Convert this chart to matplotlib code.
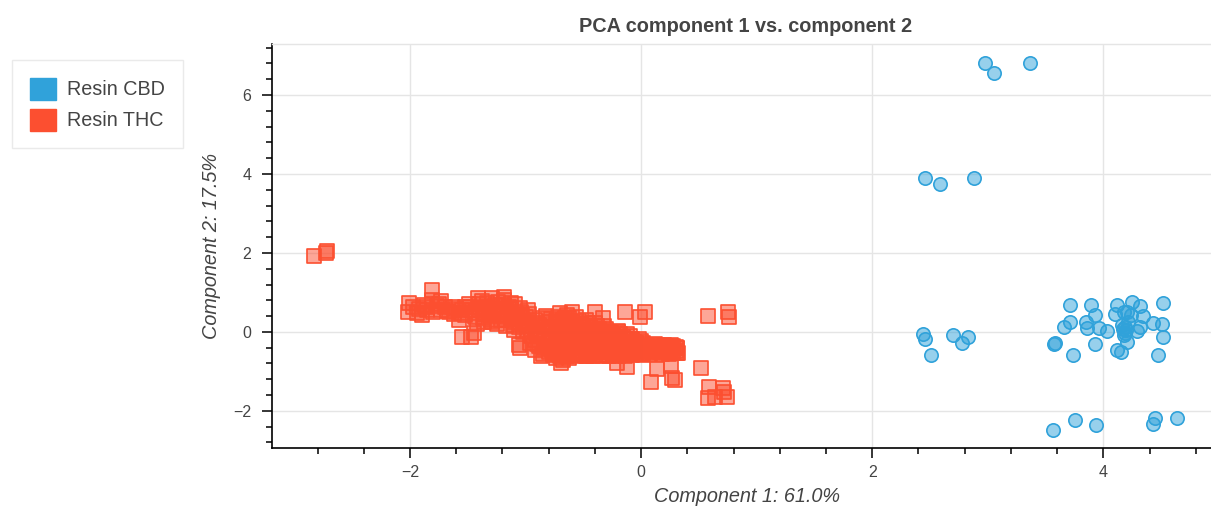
import matplotlib.pyplot as plt
from matplotlib.patches import Patch
from matplotlib.ticker import MultipleLocator
from matplotlib.colors import to_rgba

plt.rcParams['font.family'] = ['Liberation Sans', 'DejaVu Sans']

# Resin CBD (circles)
cbd_x = [2.98, 3.05, 3.37, 2.46, 2.59, 2.88,
         2.44, 2.46, 2.70, 2.78, 2.83, 2.51,
         3.570, 3.578, 3.738, 3.712, 3.708, 3.662, 3.894, 3.925, 3.850, 3.859,
         3.965, 4.029, 3.931, 4.119, 4.098, 4.176, 4.205, 4.242, 4.251, 4.320,
         4.344, 4.184, 4.199, 4.190, 4.320, 4.292, 4.182, 4.208, 4.119, 4.153,
         4.427, 4.505, 4.513, 4.517, 4.476, 4.16, 4.21, 4.17,
         3.561, 3.755, 3.939, 4.444, 4.430, 4.638]
cbd_y = [6.80, 6.55, 6.80, 3.89, 3.75, 3.90,
         -0.05, -0.18, -0.09, -0.29, -0.12, -0.58,
         -0.31, -0.29, -0.58, 0.67, 0.24, 0.12, 0.68, 0.44, 0.24, 0.11,
         0.11, 0.03, -0.30, 0.68, 0.46, 0.51, 0.50, 0.42, 0.76, 0.65,
         0.39, 0.13, 0.05, -0.03, 0.13, 0.01, -0.08, -0.26, -0.47, -0.52,
         0.22, 0.19, 0.73, -0.13, -0.58, 0.18, 0.25, 0.08,
         -2.48, -2.23, -2.35, -2.19, -2.34, -2.19]

# Resin THC (squares)
thc_x = [-2.83, -2.73, -2.72, -1.81,
         -2.01, -2.02, -1.94, -1.90, -1.88, -1.81, -1.73, -1.73, -1.63, -1.55,
         -1.58, -1.55, -1.47, -1.45, -1.41, -1.39, -1.29, -1.19, -1.13, -1.05,
         -0.98, -1.06, -0.96, -1.05,
         -1.97, -1.85, -1.77, -1.68, -1.62, -1.52, -1.49, -1.44, -1.35, -1.33,
         -1.30, -1.27, -1.25, -1.22, -1.20, -1.17, -1.15, -1.12, -1.10, -1.08,
         -1.05, -1.02, -1.00, -0.97, -0.95,
         -1.46, -1.42, -1.38, -1.36, -1.32, -1.28, -1.24, -1.18, -1.14, -1.11,
         -1.07, -1.04,
         -1.48, -1.43, -1.40, -1.37, -1.34, -1.31, -1.29, -1.26, -1.23, -1.21,
         -1.19, -1.16, -1.13, -1.10, -1.09, -1.06, -1.03, -1.01, -0.99, -0.97,
         -1.92, -1.86, -1.80, -1.75, -1.70, -1.66, -1.60, -1.56, -1.52,
         -0.92, -0.92, -0.92, -0.92, -0.88, -0.88, -0.88, -0.85, -0.85,
         -0.80, -0.80, -0.80, -0.80, -0.76, -0.76, -0.76, -0.76,
         -0.72, -0.72, -0.72, -0.72, -0.72, -0.68, -0.68, -0.68, -0.68, -0.68,
         -0.64, -0.64, -0.64, -0.64, -0.64, -0.60, -0.60, -0.60, -0.60,
         -0.56, -0.56, -0.56, -0.56, -0.56, -0.52, -0.52, -0.52, -0.52,
         -0.48, -0.48, -0.48, -0.48, -0.48, -0.44, -0.44, -0.44, -0.44,
         -0.40, -0.40, -0.40, -0.40, -0.36, -0.36, -0.36, -0.36,
         -0.32, -0.32, -0.32, -0.32, -0.28, -0.28, -0.28, -0.28,
         -0.24, -0.24, -0.24, -0.20, -0.20, -0.20, -0.20,
         -0.16, -0.16, -0.16, -0.12, -0.12, -0.12, -0.08, -0.08, -0.08,
         -0.04, -0.04, 0.00, 0.00, 0.00, 0.04, 0.04, 0.08, 0.08,
         0.12, 0.12, 0.16, 0.16, 0.20, 0.20, 0.24, 0.24, 0.28, 0.28, 0.31, 0.31,
         -0.90, -0.90, -0.90, -0.84, -0.84, -0.84, -0.78, -0.78, -0.78, -0.78,
         -0.74, -0.74, -0.74, -0.74, -0.70, -0.70, -0.70, -0.70,
         -0.66, -0.66, -0.66, -0.66, -0.62, -0.62, -0.62, -0.62, -0.62,
         -0.58, -0.58, -0.58, -0.58, -0.54, -0.54, -0.54, -0.54,
         -0.50, -0.50, -0.50, -0.50, -0.46, -0.46, -0.46, -0.46,
         -0.42, -0.42, -0.42, -0.42, -0.38, -0.38, -0.38, -0.38,
         -0.34, -0.34, -0.34, -0.34, -0.30, -0.30, -0.30, -0.30,
         -0.26, -0.26, -0.26, -0.22, -0.22, -0.22, -0.18, -0.18, -0.18,
         -0.14, -0.14, -0.14, -0.10, -0.10, -0.10, -0.06, -0.06,
         -0.02, -0.02, -0.02, 0.02, 0.02, 0.02, 0.06, 0.06, 0.10, 0.10,
         0.14, 0.14, 0.18, 0.18, 0.22, 0.22, 0.26, 0.26, 0.30, 0.30,
         -0.82, -0.70, -0.60, -0.40, -0.33, -0.20, -0.14, -0.01, 0.03,
         0.14, 0.09, 0.26, 0.29, 0.27, 0.52, 0.59, 0.58, 0.64, 0.71, 0.74, 0.72,
         0.58, 0.75, 0.76, -0.69, -0.12, -0.21, -0.47, -0.87, 0.31, 0.32]
thc_y = [1.93, 1.99, 2.04, 1.06,
         0.73, 0.51, 0.47, 0.43, 0.68, 0.81, 0.77, 0.56, 0.64, 0.56,
         0.30, -0.12, -0.12, -0.03, 0.85, 0.60, 0.85, 0.89, 0.73, 0.60,
         0.56, -0.33, -0.29, -0.41,
         0.62, 0.55, 0.66, 0.52, 0.45, 0.42, 0.70, 0.38, 0.45, 0.72,
         0.30, 0.58, 0.20, 0.42, 0.68, 0.15, 0.50, 0.32, 0.05, 0.45,
         0.22, 0.00, 0.38, 0.15, -0.10,
         0.55, 0.20, 0.78, 0.25, 0.55, 0.40, 0.75, 0.30, 0.62, 0.18,
         0.35, 0.50,
         0.62, 0.48, 0.70, 0.35, 0.62, 0.48, 0.25, 0.68, 0.52, 0.30,
         0.82, 0.40, 0.58, 0.25, 0.70, 0.12, 0.42, 0.28, 0.05, 0.45,
         0.58, 0.62, 0.50, 0.70, 0.62, 0.50, 0.58, 0.48, 0.62,
         0.30, 0.05, -0.20, -0.45, 0.18, -0.08, -0.35, 0.35, -0.55,
         0.25, 0.00, -0.25, -0.50, 0.12, -0.12, -0.38, -0.58,
         0.38, 0.20, -0.05, -0.30, -0.55, 0.30, 0.05, -0.20, -0.45, -0.70,
         0.42, 0.15, -0.10, -0.35, -0.60, 0.25, 0.00, -0.25, -0.50,
         0.38, 0.10, -0.15, -0.40, -0.62, 0.20, -0.05, -0.30, -0.55,
         0.30, 0.05, -0.20, -0.45, -0.62, 0.12, -0.12, -0.35, -0.55,
         0.22, 0.00, -0.25, -0.48, 0.08, -0.15, -0.40, -0.58,
         0.15, -0.05, -0.30, -0.52, 0.00, -0.22, -0.45, -0.62,
         -0.08, -0.32, -0.55, 0.00, -0.20, -0.42, -0.60,
         -0.12, -0.35, -0.55, -0.05, -0.25, -0.48, -0.18, -0.40, -0.58,
         -0.28, -0.50, -0.22, -0.38, -0.55, -0.32, -0.48, -0.40, -0.55,
         -0.30, -0.45, -0.38, -0.52, -0.32, -0.48, -0.40, -0.55, -0.35, -0.50, -0.42, -0.54,
         0.22, -0.05, -0.30, 0.12, -0.15, -0.42, 0.32, 0.08, -0.18, -0.45,
         0.28, 0.00, -0.48, -0.66, 0.10, -0.15, -0.40, -0.62,
         0.35, -0.05, -0.30, -0.55, 0.35, 0.08, -0.18, -0.42, -0.65,
         0.18, -0.08, -0.33, -0.58, 0.28, 0.02, -0.22, -0.48,
         0.15, -0.12, -0.38, -0.58, 0.22, -0.02, -0.28, -0.50,
         0.05, -0.20, -0.42, -0.62, 0.15, -0.08, -0.32, -0.52,
         0.02, -0.22, -0.48, -0.62, 0.08, -0.15, -0.38, -0.58,
         -0.02, -0.28, -0.50, -0.12, -0.38, -0.58, -0.05, -0.28, -0.48,
         -0.18, -0.42, -0.60, -0.10, -0.32, -0.52, -0.25, -0.45,
         -0.18, -0.35, -0.55, -0.28, -0.45, -0.58, -0.35, -0.50, -0.38, -0.52,
         -0.33, -0.48, -0.42, -0.56, -0.36, -0.50, -0.32, -0.45, -0.38, -0.48,
         0.39, 0.47, 0.51, 0.50, 0.35, 0.01, 0.50, 0.37, 0.51,
         -0.93, -1.26, -0.86, -1.22, -1.17, -0.91, -1.40, -1.68, -1.64, -1.43, -1.64, -1.51,
         0.39, 0.51, 0.37, -0.79, -0.88, -0.79, -0.62, -0.62, -0.41, -0.54]

blue = '#30a2da'
red = '#fc4f30'
text_col = '#444444'
grid_col = '#e5e5e5'

W, H = 1211, 508
fig = plt.figure(figsize=(W / 100, H / 100), dpi=100)
left, right, top, bottom = 272, 1220, 44, 448
ax = fig.add_axes([left / W, 1 - bottom / H, (right - left) / W, (bottom - top) / H])

ax.scatter(cbd_x, cbd_y, s=92, marker='o', facecolors=to_rgba(blue, 0.5),
           edgecolors=blue, linewidths=1.2, zorder=3)
ax.scatter(thc_x, thc_y, s=104, marker='s', facecolors=to_rgba(red, 0.5),
           edgecolors=red, linewidths=1.2, zorder=3)

ax.set_xlim(-3.194, 5.01)
ax.set_ylim(-2.94, 7.29)
ax.xaxis.set_major_locator(MultipleLocator(2))
ax.xaxis.set_minor_locator(MultipleLocator(0.4))
ax.yaxis.set_major_locator(MultipleLocator(2))
ax.yaxis.set_minor_locator(MultipleLocator(0.4))
ax.grid(True, which='major', color=grid_col, lw=1, zorder=0)
ax.set_axisbelow(True)

for side in ['top', 'right']:
    ax.spines[side].set_color(grid_col)
    ax.spines[side].set_linewidth(1)
for side in ['left', 'bottom']:
    ax.spines[side].set_color('black')
    ax.spines[side].set_linewidth(1.2)

ax.tick_params(which='major', direction='out', length=7, width=1.1, color='black',
               labelsize=11.5, labelcolor=text_col)
ax.tick_params(which='minor', direction='out', length=4.5, width=1.1, color='black')
ax.tick_params(axis='x', which='major', pad=5)
ax.tick_params(axis='y', which='major', pad=8)

fig.text(746 / W, 1 - 27 / H, 'PCA component 1 vs. component 2', ha='center', va='center',
         fontsize=14.3, fontweight='bold', color=text_col)
fig.text(212 / W, 1 - 246 / H, 'Component 2: 17.5%', rotation=90, ha='center', va='center',
         fontsize=14.3, style='italic', color=text_col)
fig.text(747 / W, 1 - 497 / H, 'Component 1: 61.0%', ha='center', va='center',
         fontsize=14.3, style='italic', color=text_col)

handles = [Patch(facecolor=blue, edgecolor=blue, label='Resin CBD'),
           Patch(facecolor=red, edgecolor=red, label='Resin THC')]
leg = fig.legend(handles=handles, loc='upper left', bbox_to_anchor=(12 / W, 1 - 60 / H),
                 fontsize=14.2, frameon=True, fancybox=False, borderpad=0.91,
                 handlelength=1.32, handleheight=1.32, handletextpad=0.56,
                 labelspacing=0.46, borderaxespad=0)
leg.get_frame().set_edgecolor(grid_col)
leg.get_frame().set_linewidth(1)
for t in leg.get_texts():
    t.set_color(text_col)

fig.savefig('out.png', dpi=100)
